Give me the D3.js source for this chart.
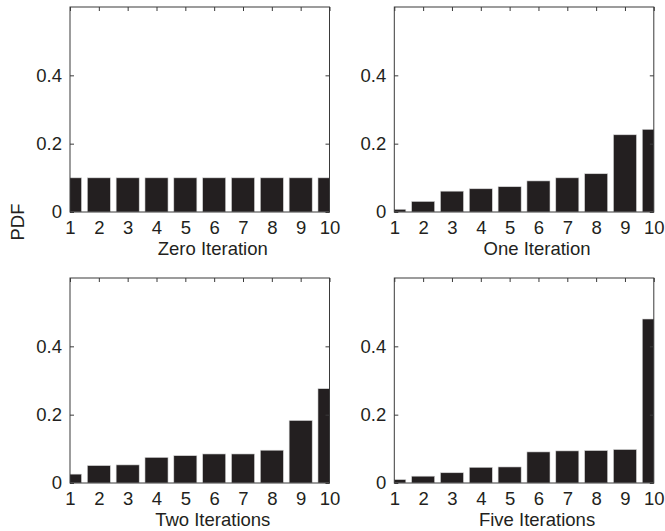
<!DOCTYPE html>
<html>
<head>
<meta charset="utf-8">
<script src="https://cdn.jsdelivr.net/npm/d3@7"></script>
<style>
  html, body { margin: 0; padding: 0; background: #fff; }
  svg { display: block; }
  text { font-family: "Liberation Sans", Arial, Helvetica, sans-serif; fill: #231f20; }
</style>
</head>
<body>
<svg id="chart" width="665" height="531"></svg>
<script>
// ---- data ----
const categories = [1, 2, 3, 4, 5, 6, 7, 8, 9, 10];
const zeroIteration = [0.1, 0.1, 0.1, 0.1, 0.1, 0.1, 0.1, 0.1, 0.1, 0.1];
const oneIteration  = [0.008, 0.031, 0.061, 0.068, 0.074, 0.091, 0.100, 0.112, 0.226, 0.242];
const twoIterations = [0.026, 0.051, 0.053, 0.075, 0.080, 0.085, 0.085, 0.096, 0.183, 0.276];
const fiveIterations = [0.010, 0.020, 0.030, 0.046, 0.047, 0.091, 0.094, 0.095, 0.098, 0.480];
const yTickValues = [0, 0.2, 0.4];
const yTickLabels = ["0", "0.2", "0.4"];
const panelTitles = ["Zero Iteration", "One Iteration", "Two Iterations", "Five Iterations"];
const yAxisLabel = "PDF";

const seriesList = [zeroIteration, oneIteration, twoIterations, fiveIterations];

// ---- layout ----
const svg = d3.select("#chart");
const lefts = [70, 394.3];
const tops = [7, 278];
const pw = 259.5, ph = 205;
const fontSize = 18.5;
const barColor = "#231f20";
const axisColor = "#3a3a3a";

seriesList.forEach((vals, idx) => {
  const col = idx % 2, row = Math.floor(idx / 2);
  const x0 = lefts[col], y0 = tops[row];
  const g = svg.append("g");

  const x = d3.scaleLinear().domain([1, 10]).range([x0, x0 + pw]);
  const y = d3.scaleLinear().domain([0, 0.6]).range([y0 + ph, y0]);
  const bw = 0.8 * (x(2) - x(1));

  const clipId = "clip" + idx;
  g.append("clipPath").attr("id", clipId)
    .append("rect").attr("x", x0).attr("y", y0).attr("width", pw).attr("height", ph);

  g.append("g").attr("clip-path", `url(#${clipId})`)
    .selectAll("rect").data(vals).join("rect")
    .attr("x", (d, i) => x(categories[i]) - bw / 2)
    .attr("width", bw)
    .attr("y", d => y(d))
    .attr("height", d => y(0) - y(d))
    .attr("fill", barColor)
    .attr("stroke", "#d8d8d8")
    .attr("stroke-width", 0.6);

  // box
  g.append("rect").attr("x", x0).attr("y", y0).attr("width", pw).attr("height", ph)
    .attr("fill", "none").attr("stroke", axisColor).attr("stroke-width", 1);

  // left axis
  const la = g.append("g").attr("transform", `translate(${x0},0)`)
    .call(d3.axisLeft(y).tickValues(yTickValues).tickSize(-4).tickPadding(8)
      .tickFormat((d, i) => yTickLabels[i]));
  la.select(".domain").remove();
  la.selectAll("line").attr("stroke", axisColor);
  la.selectAll("text").attr("font-size", fontSize).attr("font-family", null).attr("fill", barColor);

  // right axis ticks
  const ra = g.append("g").attr("transform", `translate(${x0 + pw},0)`)
    .call(d3.axisRight(y).tickValues(yTickValues).tickSize(-4).tickFormat(""));
  ra.select(".domain").remove();
  ra.selectAll("line").attr("stroke", axisColor);

  // top axis ticks
  const ta = g.append("g").attr("transform", `translate(0,${y0})`)
    .call(d3.axisTop(x).tickValues(categories).tickSize(-4).tickFormat(""));
  ta.select(".domain").remove();
  ta.selectAll("line").attr("stroke", axisColor);

  // bottom axis labels
  const ba = g.append("g").attr("transform", `translate(0,${y0 + ph})`)
    .call(d3.axisBottom(x).tickValues(categories).tickSize(0).tickPadding(9)
      .tickFormat(d3.format("d")));
  ba.select(".domain").remove();
  ba.selectAll("text").attr("font-size", fontSize).attr("font-family", null).attr("fill", barColor);

  // title
  g.append("text")
    .attr("x", x0 + pw / 2 + 13)
    .attr("y", y0 + ph + 43)
    .attr("text-anchor", "middle")
    .attr("font-size", fontSize)
    .text(panelTitles[idx]);
});

svg.append("text")
  .attr("transform", "translate(23.5,222) rotate(-90)")
  .attr("text-anchor", "middle")
  .attr("font-size", fontSize)
  .text(yAxisLabel);
</script>
</body>
</html>
